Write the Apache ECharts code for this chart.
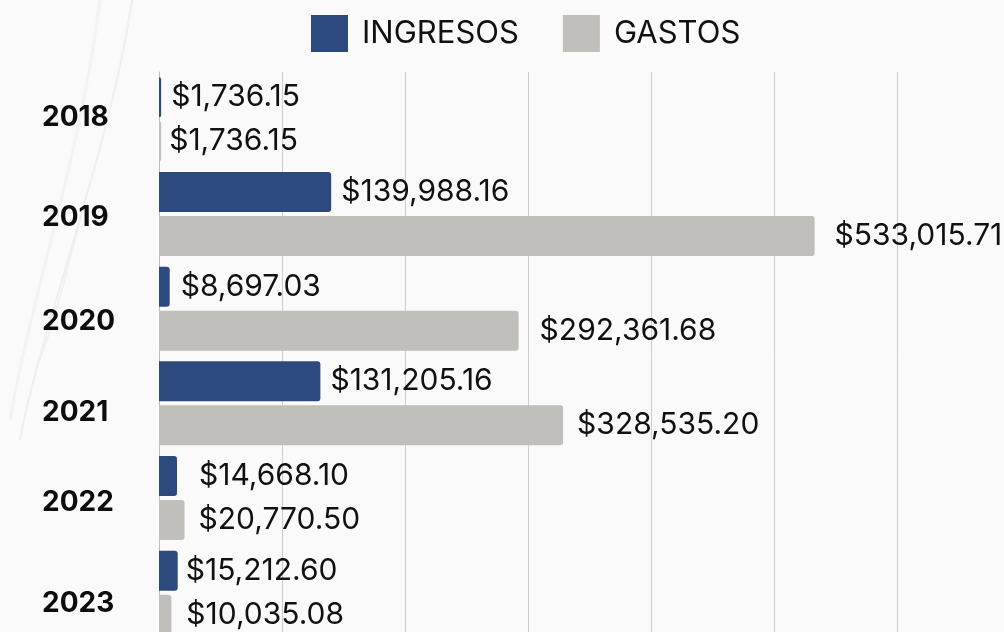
<!DOCTYPE html>
<html>
<head>
<meta charset="utf-8">
<script src="https://cdn.jsdelivr.net/npm/echarts@6/dist/echarts.min.js"></script>
<style>
  html, body { margin: 0; padding: 0; background: #fafafa; }
  #chart { width: 1004px; height: 632px; }
</style>
</head>
<body>
<div id="chart"></div>
<script>
// Yearly income vs. expenses
const years = ['2018', '2019', '2020', '2021', '2022', '2023'];
const ingresos = [1736.15, 139988.16, 8697.03, 131205.16, 14668.10, 15212.60];
const gastos = [1736.15, 533015.71, 292361.68, 328535.20, 20770.50, 10035.08];
const seriesNames = ['INGRESOS', 'GASTOS'];

// Layout tweaks: vertical nudge of each year label, gap between bar end and value label
const yearNudge = [-2, 4, 13, 9, 5, 11];
const ingresosGap = [10, 10, 11, 10, 22, 8];
const gastosGap = [8, 20, 21, 14, 14, 15];

const BLUE = '#2d4a7e';
const GREY = '#c0bfbb';
const FONT = 'Inter, "Noto Sans", sans-serif';

const money = v => '$' + v.toLocaleString('en-US', { minimumFractionDigits: 2, maximumFractionDigits: 2 });

const yearRich = {};
yearNudge.forEach((d, i) => {
  yearRich['y' + i] = {
    fontFamily: FONT, fontSize: 28, fontWeight: 'bold', color: '#0d0d0d',
    padding: d >= 0 ? [2 * d, 0, 0, 0] : [0, 0, -2 * d, 0]
  };
});

const withGap = (vals, gaps) => vals.map((v, i) => ({ value: v, label: { distance: gaps[i] } }));

const barLabel = {
  show: true, position: 'right',
  fontFamily: FONT, fontSize: 30, color: '#111',
  formatter: p => money(p.value)
};

const chart = echarts.init(document.getElementById('chart'), null, { renderer: 'canvas' });
chart.setOption({
  backgroundColor: '#fafafa',
  animation: false,
  graphic: [
    { type: 'bezierCurve', silent: true, z: -10,
      shape: { x1: 132, y1: 0, x2: 20, y2: 440, cpx1: 110, cpy1: 150, cpx2: 40, cpy2: 330 },
      style: { stroke: '#e8e8e8', lineWidth: 2, fill: null, opacity: 0.6 } },
    { type: 'bezierCurve', silent: true, z: -10,
      shape: { x1: 100, y1: 0, x2: 10, y2: 420, cpx1: 80, cpy1: 160, cpx2: 30, cpy2: 300 },
      style: { stroke: '#efefef', lineWidth: 3, fill: null, opacity: 0.6 } },
    { type: 'bezierCurve', silent: true, z: -10,
      shape: { x1: 85, y1: 200, x2: 40, y2: 360, cpx1: 70, cpy1: 260, cpx2: 55, cpy2: 320 },
      style: { stroke: '#e9e9e9', lineWidth: 1.5, fill: null, opacity: 0.6 } }
  ],
  legend: {
    data: seriesNames,
    left: 311, top: 15, padding: 0,
    itemWidth: 37, itemHeight: 37, itemGap: 44,
    icon: 'rect',
    textStyle: { fontFamily: FONT, fontSize: 31, color: '#111', padding: [0, 0, 0, 9] }
  },
  grid: { left: 159, top: 72, width: 861, height: 568, outerBoundsMode: 'none', containLabel: false },
  xAxis: {
    type: 'value', min: 0, max: 700000, interval: 100000,
    axisLabel: { show: false }, axisLine: { show: false }, axisTick: { show: false },
    splitLine: { show: true, lineStyle: { color: '#cdcdcd', width: 1 } }
  },
  yAxis: {
    type: 'category', data: years, inverse: true,
    axisTick: { show: false },
    axisLine: { show: true, lineStyle: { color: '#bdbdbd', width: 1 } },
    axisLabel: {
      align: 'left', margin: 117,
      formatter: (v, i) => '{y' + i + '|' + v + '}',
      rich: yearRich
    }
  },
  series: [
    {
      name: seriesNames[0], type: 'bar', data: withGap(ingresos, ingresosGap),
      barWidth: 40, barGap: '10%',
      itemStyle: { color: BLUE, borderRadius: [0, 3, 3, 0] },
      label: barLabel, z: 2
    },
    {
      name: seriesNames[1], type: 'bar', data: withGap(gastos, gastosGap),
      barWidth: 40,
      itemStyle: { color: GREY, borderRadius: [0, 3, 3, 0] },
      label: barLabel, z: 2
    }
  ]
});
</script>
</body>
</html>
